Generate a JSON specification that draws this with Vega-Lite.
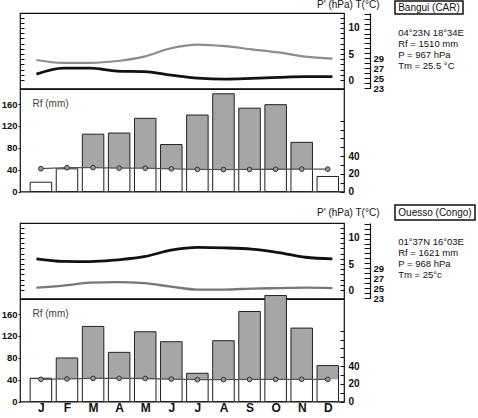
{
"$schema": "https://vega.github.io/schema/vega-lite/v6.json",
"padding": 0,
"background": "white",
"datasets": {
"bangui": [
{"m":1,"rain":17,"P":3.85,"T":25.8},
{"m":2,"rain":41.5,"P":3.3,"T":27.0},
{"m":3,"rain":105,"P":3.3,"T":27.0},
{"m":4,"rain":107,"P":3.65,"T":26.4},
{"m":5,"rain":134,"P":4.5,"T":26.3},
{"m":6,"rain":86,"P":6.1,"T":25.6},
{"m":7,"rain":140,"P":6.8,"T":25.0},
{"m":8,"rain":179,"P":6.5,"T":24.8},
{"m":9,"rain":152.6,"P":5.9,"T":24.95},
{"m":10,"rain":159,"P":5.3,"T":25.15},
{"m":11,"rain":90,"P":4.5,"T":25.3},
{"m":12,"rain":27.5,"P":4.1,"T":25.3}
],
"ouesso": [
{"m":1,"rain":42.6,"P":6.0,"T":25.1},
{"m":2,"rain":79.7,"P":5.5,"T":25.5},
{"m":3,"rain":137.5,"P":5.45,"T":26.1},
{"m":4,"rain":90,"P":5.8,"T":26.2},
{"m":5,"rain":127.7,"P":6.4,"T":26.0},
{"m":6,"rain":109.5,"P":7.65,"T":25.3},
{"m":7,"rain":51.7,"P":8.2,"T":24.7},
{"m":8,"rain":111.3,"P":8.1,"T":24.7},
{"m":9,"rain":164.8,"P":7.85,"T":24.9},
{"m":10,"rain":194,"P":7.2,"T":25.0},
{"m":11,"rain":134.4,"P":6.3,"T":25.1},
{"m":12,"rain":65.7,"P":6.0,"T":25.0}
]
},
"vconcat": [
{"hconcat": [
 {"vconcat": [
  {"width": 324, "height": 12, "view": {"stroke": null}, "data": {"values": [{}]},
   "mark": {"type": "text", "fontSize": 10, "dy": -2},
   "encoding": {"x": {"datum": 12.59, "type": "quantitative", "scale": {"domain": [0.39, 12.43], "nice": false, "zero": false}, "axis": null}, "text": {"value": "P' (hPa)  T(°C)"}}},
  {"width": 324, "height": 75.5, "data": {"name": "bangui"},
   "encoding": {"x": {"field": "m", "type": "quantitative", "scale": {"domain": [0.39, 12.43], "nice": false, "zero": false}, "axis": null}},
   "layer": [
    {"mark": {"type": "line", "opacity": 0}, "encoding": {"y": {"field": "P", "type": "quantitative", "scale": {"domain": [-1.63, 12.88], "nice": false, "zero": false}, "axis": {"orient": "left", "values": [0,1,2,3,4,5,6,7,8,9,10,11,12], "labels": false, "domain": false, "tickSize": -4, "title": null}}}},
    {"mark": {"type": "line", "color": "#8c8c8c", "strokeWidth": 2.2, "interpolate": "monotone"}, "encoding": {"y": {"field": "P", "type": "quantitative", "scale": {"domain": [-1.63, 12.88], "nice": false, "zero": false}, "axis": {"orient": "right", "values": [0,1,2,3,4,5,6,7,8,9,10,11,12], "domain": false, "tickSize": -4, "labelPadding": 8, "labelOverlap": false, "labelExpr": "datum.value % 5 === 0 ? datum.label : ''", "title": null}}}},
    {"mark": {"type": "line", "color": "#111", "strokeWidth": 2.8, "interpolate": "monotone"}, "encoding": {"y": {"field": "T", "type": "quantitative", "scale": {"domain": [22.9, 38.15], "nice": false, "zero": false}, "axis": {"orient": "right", "offset": 26, "values": [23,24,25,26,27,28,29,30,31,32,33,34,35,36,37,38], "domain": true, "tickSize": -6, "labelPadding": 9, "labelOverlap": false, "labelFontSize": 9.5, "labelExpr": "datum.value <= 29 && datum.value % 2 === 1 ? datum.label : ''", "title": null}}}},
    {"data": {"values": [{}]}, "mark": {"type": "text", "color": "#777", "fontSize": 10}, "encoding": {"x": {"datum": 10.97, "type": "quantitative"}, "y": {"datum": 6.15, "type": "quantitative", "scale": {"domain": [-1.63, 12.88], "nice": false, "zero": false}, "axis": null}, "text": {"value": "P' (hPa)"}}},
    {"data": {"values": [{}]}, "mark": {"type": "text", "color": "#666", "fontSize": 10}, "encoding": {"x": {"datum": 10.78, "type": "quantitative"}, "y": {"datum": 2.17, "type": "quantitative", "scale": {"domain": [-1.63, 12.88], "nice": false, "zero": false}, "axis": null}, "text": {"value": "T(°C)"}}}
   ],
   "resolve": {"scale": {"y": "independent"}}
  },
  {"width": 324, "height": 102.5, "data": {"name": "bangui"},
   "encoding": {"x": {"field": "m", "type": "quantitative", "scale": {"domain": [0.39, 12.43], "nice": false, "zero": false}, "axis": null}},
   "layer": [
    {"mark": {"type": "bar", "color": "#a6a6a6", "size": 21.5}, "encoding": {"y": {"field": "rain", "type": "quantitative", "scale": {"domain": [0, 187.7], "nice": false}, "axis": {"orient": "left", "values": [0,40,80,120,160], "domain": false, "tickSize": 2, "labelPadding": 1, "labelFontSize": 9.5, "title": "Rf (mm)", "titleAngle": 0, "titleX": 12, "titleY": 14, "titleAlign": "left", "titleBaseline": "middle", "titleFontWeight": "normal", "titleFontSize": 10, "titleColor": "#444"}}}},
    {"mark": {"type": "bar", "color": "#ffffff", "size": 21.5}, "encoding": {"y": {"field": "T", "type": "quantitative", "scale": {"domain": [0, 115.8], "nice": false}, "axis": null}}},
    {"mark": {"type": "bar", "filled": false, "color": "#222", "strokeWidth": 1, "size": 21.5}, "encoding": {"y": {"field": "rain", "type": "quantitative", "scale": {"domain": [0, 187.7], "nice": false}, "axis": null}}},
    {"mark": {"type": "line", "color": "#555", "strokeWidth": 1.3, "point": {"filled": true, "fill": "#999", "stroke": "#333", "strokeWidth": 1, "size": 22}}, "encoding": {"y": {"field": "T", "type": "quantitative", "scale": {"domain": [0, 115.8], "nice": false}, "axis": {"orient": "right", "values": [0,10,20,30,40,50,60,70,80], "domain": false, "tickSize": -4, "labelPadding": 8, "labelOverlap": false, "labelExpr": "datum.value % 20 === 0 && datum.value <= 40 ? datum.label : ''", "title": null}}}}
   ],
   "resolve": {"scale": {"y": "independent"}}
  }
 ], "spacing": 0, "bounds": "flush"},
 {"vconcat": [
  {"width": 68, "height": 13, "view": {"stroke": "#111", "strokeWidth": 1.5}, "data": {"values": [{"t": "Bangui (CAR)"}]}, "mark": {"type": "text", "fontSize": 10}, "encoding": {"text": {"field": "t"}}},
  {"width": 80, "height": 45, "view": {"stroke": null}, "data": {"values": [{"i": 1, "t": "04°23N 18°34E"}, {"i": 2, "t": "Rf = 1510 mm"}, {"i": 3, "t": "P = 967 hPa"}, {"i": 4, "t": "Tm = 25.5 °C"}]}, "mark": {"type": "text", "align": "left", "fontSize": 9.5}, "encoding": {"x": {"datum": 0.04, "type": "quantitative", "scale": {"domain": [0, 1]}, "axis": null}, "y": {"field": "i", "type": "ordinal", "axis": null}, "text": {"field": "t"}}}
 ], "spacing": 12}
], "spacing": 9},
{"hconcat": [
 {"vconcat": [
  {"width": 324, "height": 18, "view": {"stroke": null}, "data": {"values": [{}]},
   "mark": {"type": "text", "fontSize": 10, "dy": -1},
   "encoding": {"x": {"datum": 12.59, "type": "quantitative", "scale": {"domain": [0.39, 12.43], "nice": false, "zero": false}, "axis": null}, "text": {"value": "P' (hPa)  T(°C)"}}},
  {"width": 324, "height": 75.5, "data": {"name": "ouesso"},
   "encoding": {"x": {"field": "m", "type": "quantitative", "scale": {"domain": [0.39, 12.43], "nice": false, "zero": false}, "axis": null}},
   "layer": [
    {"mark": {"type": "line", "opacity": 0}, "encoding": {"y": {"field": "P", "type": "quantitative", "scale": {"domain": [-1.63, 12.88], "nice": false, "zero": false}, "axis": {"orient": "left", "values": [0,1,2,3,4,5,6,7,8,9,10,11,12], "labels": false, "domain": false, "tickSize": -4, "title": null}}}},
    {"mark": {"type": "line", "color": "#111", "strokeWidth": 2.8, "interpolate": "monotone"}, "encoding": {"y": {"field": "P", "type": "quantitative", "scale": {"domain": [-1.63, 12.88], "nice": false, "zero": false}, "axis": {"orient": "right", "values": [0,1,2,3,4,5,6,7,8,9,10,11,12], "domain": false, "tickSize": -4, "labelPadding": 8, "labelOverlap": false, "labelExpr": "datum.value % 5 === 0 ? datum.label : ''", "title": null}}}},
    {"mark": {"type": "line", "color": "#777", "strokeWidth": 2.4, "interpolate": "monotone"}, "encoding": {"y": {"field": "T", "type": "quantitative", "scale": {"domain": [22.9, 38.15], "nice": false, "zero": false}, "axis": {"orient": "right", "offset": 26, "values": [23,24,25,26,27,28,29,30,31,32,33,34,35,36,37,38], "domain": true, "tickSize": -6, "labelPadding": 9, "labelOverlap": false, "labelFontSize": 9.5, "labelExpr": "datum.value <= 29 && datum.value % 2 === 1 ? datum.label : ''", "title": null}}}},
    {"data": {"values": [{}]}, "mark": {"type": "text", "color": "#777", "fontSize": 10}, "encoding": {"x": {"datum": 10.97, "type": "quantitative"}, "y": {"datum": 8.1, "type": "quantitative", "scale": {"domain": [-1.63, 12.88], "nice": false, "zero": false}, "axis": null}, "text": {"value": "P' (hPa)"}}},
    {"data": {"values": [{}]}, "mark": {"type": "text", "color": "#666", "fontSize": 10}, "encoding": {"x": {"datum": 10.8, "type": "quantitative"}, "y": {"datum": 2.23, "type": "quantitative", "scale": {"domain": [-1.63, 12.88], "nice": false, "zero": false}, "axis": null}, "text": {"value": "T (°C)"}}}
   ],
   "resolve": {"scale": {"y": "independent"}}
  },
  {"width": 324, "height": 102.5, "data": {"name": "ouesso"},
   "encoding": {"x": {"field": "m", "type": "quantitative", "scale": {"domain": [0.39, 12.43], "nice": false, "zero": false}, "axis": {"values": [1,2,3,4,5,6,7,8,9,10,11,12], "labelExpr": "['J','F','M','A','M','J','J','A','S','O','N','D'][datum.value - 1]", "ticks": false, "domain": false, "labelFontSize": 12, "labelFontWeight": "bold", "labelFont": "Liberation Sans", "labelPadding": 1, "labelFlush": false, "labelOverlap": false, "title": null}}},
   "layer": [
    {"mark": {"type": "bar", "color": "#a6a6a6", "size": 21.5}, "encoding": {"y": {"field": "rain", "type": "quantitative", "scale": {"domain": [0, 187.7], "nice": false}, "axis": {"orient": "left", "values": [0,40,80,120,160], "domain": false, "tickSize": 2, "labelPadding": 1, "labelFontSize": 9.5, "title": "Rf (mm)", "titleAngle": 0, "titleX": 12, "titleY": 14, "titleAlign": "left", "titleBaseline": "middle", "titleFontWeight": "normal", "titleFontSize": 10, "titleColor": "#444"}}}},
    {"mark": {"type": "bar", "color": "#ffffff", "size": 21.5}, "encoding": {"y": {"field": "T", "type": "quantitative", "scale": {"domain": [0, 115.8], "nice": false}, "axis": null}}},
    {"mark": {"type": "bar", "filled": false, "color": "#222", "strokeWidth": 1, "size": 21.5}, "encoding": {"y": {"field": "rain", "type": "quantitative", "scale": {"domain": [0, 187.7], "nice": false}, "axis": null}}},
    {"mark": {"type": "line", "color": "#555", "strokeWidth": 1.3, "point": {"filled": true, "fill": "#999", "stroke": "#333", "strokeWidth": 1, "size": 22}}, "encoding": {"y": {"field": "T", "type": "quantitative", "scale": {"domain": [0, 115.8], "nice": false}, "axis": {"orient": "right", "values": [0,10,20,30,40,50,60,70,80], "domain": false, "tickSize": -4, "labelPadding": 8, "labelOverlap": false, "labelExpr": "datum.value % 20 === 0 && datum.value <= 40 ? datum.label : ''", "title": null}}}}
   ],
   "resolve": {"scale": {"y": "independent"}}
  }
 ], "spacing": 0, "bounds": "flush"},
 {"vconcat": [
  {"width": 80, "height": 15, "view": {"stroke": "#111", "strokeWidth": 1.5}, "data": {"values": [{"t": "Ouesso (Congo)"}]}, "mark": {"type": "text", "fontSize": 10}, "encoding": {"text": {"field": "t"}}},
  {"width": 80, "height": 45, "view": {"stroke": null}, "data": {"values": [{"i": 1, "t": "01°37N 16°03E"}, {"i": 2, "t": "Rf = 1621 mm"}, {"i": 3, "t": "P = 968 hPa"}, {"i": 4, "t": "Tm = 25°c"}]}, "mark": {"type": "text", "align": "left", "fontSize": 9.5}, "encoding": {"x": {"datum": 0.04, "type": "quantitative", "scale": {"domain": [0, 1]}, "axis": null}, "y": {"field": "i", "type": "ordinal", "axis": null}, "text": {"field": "t"}}}
 ], "spacing": 15}
], "spacing": 9}
],
"spacing": 6,
"config": {
 "view": {"stroke": "#111", "strokeWidth": 1.2},
 "font": "Liberation Sans",
 "axis": {"labelFontSize": 10, "labelFontWeight": "bold", "labelColor": "#111", "tickColor": "#111", "domainColor": "#111", "tickWidth": 1, "domainWidth": 1.2, "grid": false, "titleColor": "#111"},
 "text": {"color": "#111"}
}
}
